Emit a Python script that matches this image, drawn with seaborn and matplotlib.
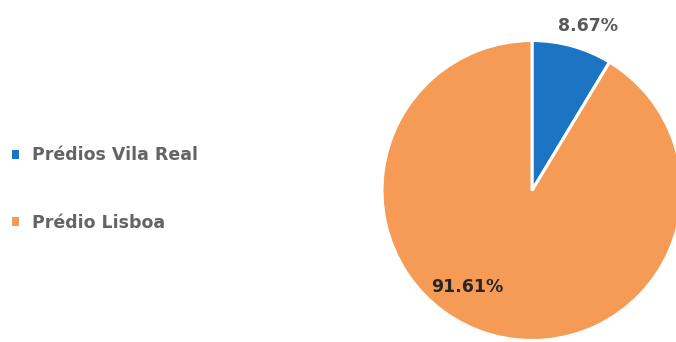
import matplotlib
matplotlib.use("Agg")
import matplotlib.pyplot as plt
import seaborn as sns

# Shares of the property portfolio (percent)
categories = ["Prédios Vila Real", "Prédio Lisboa"]
shares = [8.67, 91.61]
pct_labels = ["8.67%", "91.61%"]

sns.set_theme(style="white")
plt.rcParams["font.family"] = ["DejaVu Sans"]

colors = ["#1B75C2", "#F59B55"]

fig = plt.figure(figsize=(6.76, 3.42), dpi=100)
fig.patch.set_facecolor("white")

# Pie axes: square box 300x300 px, centred near the right side
ax = fig.add_axes([382 / 676, 1.5 / 342, 300 / 676, 300 / 342])
wedges, _ = ax.pie(
    shares,
    colors=colors,
    startangle=90,
    counterclock=False,
    wedgeprops=dict(edgecolor="white", linewidth=2.2),
)
ax.set_xlim(-1, 1)
ax.set_ylim(-1, 1)
ax.set_aspect("equal")
ax.axis("off")
for w in wedges:
    w.set_clip_on(False)

# Percentage labels
ax.text(0.375, 1.095, pct_labels[0], ha="center", va="center",
        fontsize=12.5, fontweight="bold", color="#595959")
ax.text(-0.43, -0.645, pct_labels[1], ha="center", va="center",
        fontsize=12.5, fontweight="bold", color="#262626")

# Legend on the left
leg = fig.legend(
    wedges, categories,
    loc="center left",
    bbox_to_anchor=(-0.006, 0.447),
    frameon=False,
    handlelength=0.4, handleheight=0.4,
    handletextpad=0.75,
    labelspacing=2.85,
    prop=dict(weight="bold", size=12.5),
    labelcolor="#646464",
)
for h in leg.legend_handles:
    h.set_edgecolor("none")

fig.savefig("out.png", dpi=100, facecolor="white")
